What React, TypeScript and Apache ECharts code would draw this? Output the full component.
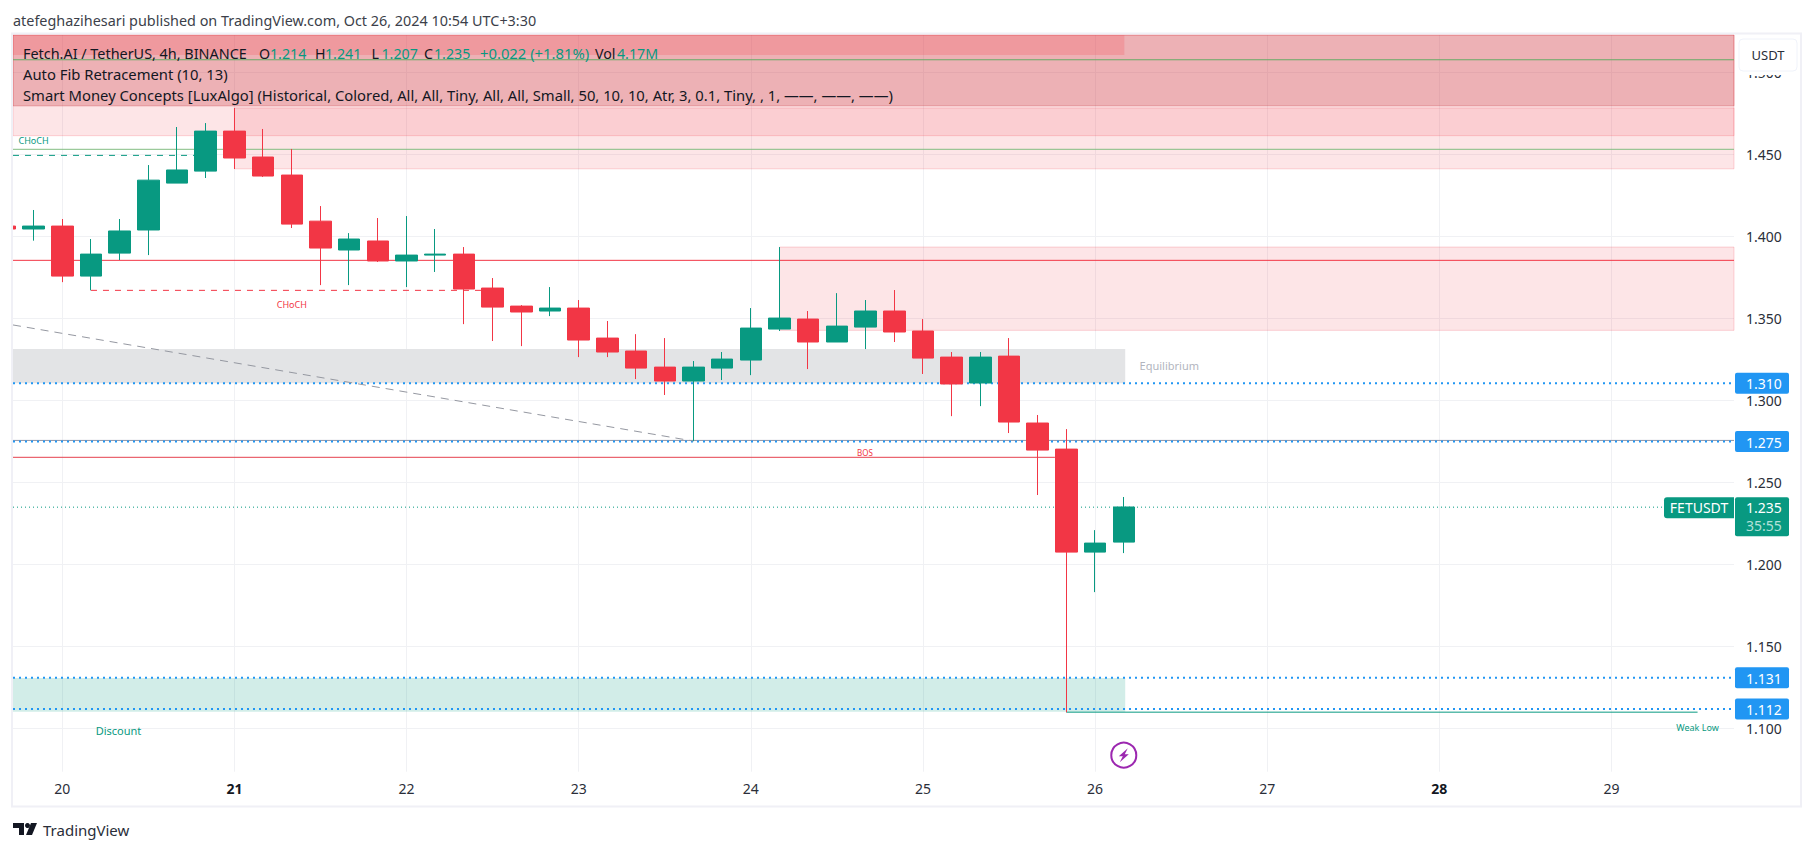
import React, { useEffect, useRef } from "react";
import * as echarts from "echarts";

const FONT = "'Noto Sans', sans-serif";

// candles: x index (4h bars, 0 = day 20 00:00), open, close, low, high
const candleX = [-2,-1,0,1,2,3,4,5,6,7,8,9,10,11,12,13,14,15,16,17,18,19,20,21,22,23,24,25,26,27,28,29,30,31,32,33,34,35,36,37];
const opens = [1.4064,1.4046,1.4064,1.3759,1.3899,1.404,1.4326,1.4399,1.4643,1.4485,1.4375,1.4094,1.3918,1.3973,1.3851,1.3887,1.3893,1.3686,1.3576,1.3546,1.3564,1.3381,1.3302,1.3204,1.3119,1.3198,1.3247,1.3436,1.3497,1.3357,1.3448,1.3546,1.3424,1.3265,1.3107,1.3271,1.2863,1.2704,1.2076,1.2137];
const closes = [1.4046,1.4064,1.3759,1.3893,1.4034,1.4344,1.4406,1.4643,1.4479,1.4369,1.4076,1.393,1.3985,1.3851,1.3887,1.3893,1.368,1.357,1.354,1.3564,1.3369,1.3296,1.3198,1.3119,1.3204,1.3253,1.3442,1.3503,1.3357,1.3454,1.3546,1.3418,1.3259,1.3101,1.3265,1.2869,1.2698,1.2076,1.2131,1.2351];
const lows = [1.4046,1.3975,1.3722,1.3672,1.3857,1.3887,1.4326,1.4357,1.4412,1.4363,1.4052,1.3704,1.3704,1.3845,1.3692,1.3784,1.3466,1.3363,1.3332,1.3515,1.3265,1.3265,1.3131,1.3034,1.2753,1.3125,1.3155,1.3424,1.3192,1.3357,1.3314,1.3357,1.3162,1.2905,1.2966,1.2802,1.2424,1.1099,1.1832,1.207];
const highs = [1.4064,1.4162,1.4107,1.3985,1.4107,1.4436,1.4668,1.4692,1.4784,1.4656,1.4534,1.4186,1.4021,1.4113,1.4125,1.4046,1.3936,1.3747,1.3582,1.3692,1.3613,1.3485,1.3405,1.3381,1.3241,1.3296,1.3564,1.3936,1.3546,1.3655,1.3613,1.3674,1.3497,1.3296,1.3296,1.3381,1.2912,1.2826,1.221,1.2412];

const xMin = -1.718;
const xMax = 58.27;
const yMin = 1.0737;
const yMax = 1.5229;

const dayTicks = [0, 6, 12, 18, 24, 30, 36, 42, 48, 54];
const dayLabels = ["20", "21", "22", "23", "24", "25", "26", "27", "28", "29"];
const boldDays = ["21", "28"];
const priceTicks = [1.1, 1.15, 1.2, 1.25, 1.3, 1.35, 1.4, 1.45, 1.5];

// zones: x start, x end, price top, price bottom
const premiumZone = [xMin, xMax, yMax, 1.4615];
const upperZone = [xMin, xMax, yMax, 1.4797];
const topZone = [xMin, 37.02, yMax, 1.5107];
const blockHigh = [6, xMax, 1.4784, 1.4413];
const blockMid = [25, xMax, 1.3936, 1.3428];
const equilibriumZone = [xMin, 37.05, 1.3314, 1.3105];
const discountZone = [xMin, 37.05, 1.1308, 1.1102];

// lines
const blueLevels = [1.3105, 1.275, 1.131, 1.112];
const blueLabels = ["1.310", "1.275", "1.131", "1.112"];
const lastPrice = 1.235;
const grayLevel = 1.2757;
const redLevel = 1.3855;
const greenLevels = [1.5078, 1.4532];
const bosLine = [[xMin, 1.2654], [34.6, 1.2654]];
const chochRedLine = [[1, 1.3672], [15, 1.3672]];
const chochGreenLine = [[xMin, 1.4495], [5, 1.4495]];
const fibTrendLine = [[xMin, 1.3461], [22, 1.2753]];
const weakLowLine = [[35, 1.11], [57, 1.11]];

// small chart labels: x index, price, text
const smcLabels = [
  [-1, 1.4588, "CHoCH"],
  [8, 1.3587, "CHoCH"],
  [27.98, 1.2686, "BOS"],
  [37.55, 1.3211, "Equilibrium"],
  [1.96, 1.0986, "Discount"],
  [57, 1.1005, "Weak Low"],
];
const smcLabelColors = ["#089981", "#f23645", "#f23645", "#b2b5be", "#089981", "#089981"];
const smcLabelSizes = [9, 9, 8, 11, 11, 9];
const smcLabelAligns = ["center", "center", "center", "left", "center", "center"];

const headerText = "atefeghazihesari published on TradingView.com, Oct 26, 2024 10:54 UTC+3:30";
const symbolName = "Fetch.AI / TetherUS, 4h, BINANCE";
const ohlcKeys = ["O", "H", "L", "C"];
const ohlcValues = ["1.214", "1.241", "1.207", "1.235"];
const changeText = "+0.022 (+1.81%)";
const volKey = "Vol";
const volText = "4.17M";
const study1 = "Auto Fib Retracement (10, 13)";
const study2 = "Smart Money Concepts [LuxAlgo] (Historical, Colored, All, All, Tiny, All, All, Small, 50, 10, 10, Atr, 3, 0.1, Tiny, , 1, \u2014\u2014, \u2014\u2014, \u2014\u2014)";

const UP = "#089981";
const DOWN = "#f23645";
const BLUE = "#2196f3";
const GRID_L = 13, GRID_T = 35, GRID_W = 1721, GRID_H = 736.7;
const LEGEND_FONT = `14.8px ${FONT}`;
const LEGEND_FONT_NARROW = `14.2px ${FONT}`;
const ohlcStart = [259, 315, 371.5, 424];
const changeStart = 480;
const volStart = 595;

function segLine(data: number[][], color: string, type: any, width = 1, z = 3) {
  return {
    type: "line", data, symbol: "none", silent: true, z,
    lineStyle: { color, width, type }, tooltip: { show: false },
  };
}

function legendText(x: number, y: number, text: string, fill: string, font = LEGEND_FONT) {
  return { type: "text", z: 53, style: { x, y, text, fill, font, textVerticalAlign: "middle" } };
}

export default function App() {
  const ref = useRef<HTMLDivElement>(null);
  useEffect(() => {
    document.body.style.margin = "0";
    document.body.style.background = "#ffffff";
    const chart = echarts.init(ref.current!, undefined, { renderer: "svg" });

    const zones = [premiumZone, blockHigh, blockMid, upperZone, topZone, equilibriumZone, discountZone];
    const zoneFill = [
      "rgba(242,54,69,0.13)", "rgba(242,54,69,0.13)", "rgba(242,54,69,0.13)",
      "rgba(200,50,60,0.29)", "rgba(250,60,70,0.2)", "#e3e4e6", "rgba(8,153,129,0.18)",
    ];
    const zoneStroke = [
      "rgba(242,54,69,0.2)", "rgba(242,54,69,0.2)", "rgba(242,54,69,0.2)",
      "rgba(200,50,60,0.35)", "none", "none", "none",
    ];

    const ohlcText: any[] = [];
    ohlcKeys.forEach((k, i) => {
      ohlcText.push(legendText(ohlcStart[i], 53, k, "#131722", LEGEND_FONT_NARROW));
      ohlcText.push(legendText(ohlcStart[i] + (k === "O" ? 11 : 10), 53, ohlcValues[i], UP, LEGEND_FONT_NARROW));
    });

    const option: any = {
      animation: false,
      backgroundColor: "#ffffff",
      textStyle: { fontFamily: FONT },
      grid: { left: GRID_L, top: GRID_T, width: GRID_W, height: GRID_H, containLabel: false },
      xAxis: {
        type: "value", min: xMin, max: xMax, scale: true,
        axisLine: { show: false },
        axisTick: { show: false, customValues: dayTicks },
        splitLine: { show: true, lineStyle: { color: "#f0f1f4", width: 1 } },
        axisLabel: {
          customValues: dayTicks, margin: 10, color: "#2a2e39", fontSize: 14, fontFamily: FONT,
          formatter: (v: number) => {
            const s = dayLabels[dayTicks.indexOf(Math.round(v))] ?? "";
            return boldDays.includes(s) ? `{b|${s}}` : s;
          },
          rich: { b: { fontWeight: 700, fontSize: 14, fontFamily: FONT, color: "#131722" } },
        },
      },
      yAxis: {
        type: "value", position: "right", min: yMin, max: yMax, scale: true,
        axisLine: { show: false },
        axisTick: { show: false, customValues: priceTicks },
        splitLine: { show: true, lineStyle: { color: "#f0f1f4", width: 1 } },
        axisLabel: {
          customValues: priceTicks, margin: 12, color: "#2a2e39", fontSize: 14, fontFamily: FONT, align: "left",
          formatter: (v: number) => v.toFixed(3),
        },
      },
      series: [
        {
          type: "custom", z: 2, silent: true, encode: { x: [0, 1], y: [2, 3] },
          data: zones,
          renderItem: (p: any, api: any) => {
            const a = api.coord([api.value(0), api.value(2)]);
            const b = api.coord([api.value(1), api.value(3)]);
            return {
              type: "rect",
              shape: { x: a[0], y: a[1], width: b[0] - a[0], height: b[1] - a[1] },
              style: { fill: zoneFill[p.dataIndex], stroke: zoneStroke[p.dataIndex], lineWidth: 1 },
            };
          },
        },
        segLine([[xMin, grayLevel], [xMax, grayLevel]], "#8f93a3", "solid"),
        ...blueLevels.map((v) => segLine([[xMin, v], [xMax, v]], BLUE, [2, 4], 2)),
        segLine([[xMin, lastPrice], [55.9, lastPrice]], UP, [1, 3]),
        segLine([[xMin, redLevel], [xMax, redLevel]], DOWN, "solid"),
        segLine([[xMin, greenLevels[0]], [xMax, greenLevels[0]]], "#66ab66", "solid"),
        segLine([[xMin, greenLevels[1]], [xMax, greenLevels[1]]], "#82bd82", "solid"),
        segLine(bosLine, "#e5404e", "solid"),
        segLine(chochRedLine, DOWN, [6, 6]),
        segLine(chochGreenLine, UP, [6, 6]),
        segLine(fibTrendLine, "#9598a1", [8, 6]),
        segLine(weakLowLine, UP, "solid"),
        {
          type: "candlestick", z: 5, silent: true, barWidth: 22,
          encode: { x: 0, y: [1, 2, 3, 4] },
          itemStyle: { color: UP, color0: DOWN, borderColor: UP, borderColor0: DOWN, borderWidth: 1 },
          data: candleX.map((x, i) => [x, opens[i], closes[i], lows[i], highs[i]]),
        },
        {
          type: "custom", z: 6, silent: true, encode: { x: 0, y: 1 },
          data: smcLabels,
          renderItem: (p: any, api: any) => {
            const c = api.coord([api.value(0), api.value(1)]);
            const i = p.dataIndex;
            return {
              type: "text",
              style: {
                x: c[0], y: c[1], text: smcLabels[i][2], fill: smcLabelColors[i],
                font: `${smcLabelSizes[i]}px ${FONT}`, textAlign: smcLabelAligns[i], textVerticalAlign: "middle",
              },
            };
          },
        },
        {
          type: "custom", z: 8, silent: true, encode: { x: 0, y: 1 },
          data: blueLevels.map((v) => [xMax, v]),
          renderItem: (p: any, api: any) => {
            const c = api.coord([api.value(0), api.value(1)]);
            return {
              type: "group",
              children: [
                { type: "rect", shape: { x: c[0] + 1, y: c[1] - 10.5, width: 54, height: 21, r: 2 }, style: { fill: BLUE } },
                {
                  type: "text",
                  style: {
                    x: c[0] + 12, y: c[1] + 0.5, text: blueLabels[p.dataIndex], fill: "#ffffff",
                    font: `14px ${FONT}`, textAlign: "left", textVerticalAlign: "middle",
                  },
                },
              ],
            };
          },
        },
        {
          type: "custom", z: 8, silent: true, encode: { x: 0, y: 1 },
          data: [[xMax, lastPrice]],
          renderItem: (_p: any, api: any) => {
            const c = api.coord([api.value(0), api.value(1)]);
            return {
              type: "group",
              children: [
                { type: "rect", shape: { x: c[0] - 70, y: c[1] - 10, width: 70, height: 21, r: [3, 0, 0, 3] }, style: { fill: UP } },
                { type: "text", style: { x: c[0] - 35, y: c[1] + 0.5, text: "FETUSDT", fill: "#ffffff", font: `14px ${FONT}`, textAlign: "center", textVerticalAlign: "middle" } },
                { type: "rect", shape: { x: c[0] + 1, y: c[1] - 10, width: 54, height: 39, r: 2 }, style: { fill: UP } },
                { type: "text", style: { x: c[0] + 12, y: c[1] + 0.5, text: ohlcValues[3], fill: "#ffffff", font: `14px ${FONT}`, textAlign: "left", textVerticalAlign: "middle" } },
                { type: "text", style: { x: c[0] + 12, y: c[1] + 18, text: "35:55", fill: "#b2e0d8", font: `14px ${FONT}`, textAlign: "left", textVerticalAlign: "middle" } },
              ],
            };
          },
        },
        {
          type: "custom", z: 8, silent: true, encode: { x: 0, y: 1 },
          data: [[37, 1.0838]],
          renderItem: (_p: any, api: any) => {
            const c = api.coord([api.value(0), api.value(1)]);
            const [x, y] = c;
            return {
              type: "group",
              children: [
                { type: "circle", shape: { cx: x, cy: y, r: 12.5 }, style: { fill: "#ffffff", stroke: "#9c27b0", lineWidth: 2 } },
                {
                  type: "polygon",
                  shape: { points: [[x + 4, y - 7], [x - 5, y + 1], [x - 1, y + 1], [x - 4, y + 7], [x + 5, y - 1], [x + 1, y - 1]] },
                  style: { fill: "#9c27b0" },
                },
              ],
            };
          },
        },
      ],
      graphic: [
        { type: "rect", z: 49, shape: { x: 0, y: 30, width: 11.5, height: 780 }, style: { fill: "#ffffff" } },
        { type: "rect", z: 50, shape: { x: 12, y: 33.5, width: 1789, height: 773 }, style: { fill: "none", stroke: "#f0f0f6", lineWidth: 2 } },
        { type: "rect", z: 51, shape: { x: 1735, y: 35, width: 64, height: 40 }, style: { fill: "#ffffff" } },
        { type: "rect", z: 52, shape: { x: 1739, y: 39, width: 58, height: 32, r: 4 }, style: { fill: "#ffffff", stroke: "#f0f3fa", lineWidth: 1 } },
        { type: "text", z: 53, style: { x: 1768, y: 55, text: "USDT", fill: "#2a2e39", font: `13px ${FONT}`, textAlign: "center", textVerticalAlign: "middle" } },
        { type: "text", z: 53, style: { x: 13, y: 20, text: headerText, fill: "#3c3f4a", font: `14.4px ${FONT}`, textVerticalAlign: "middle" } },
        legendText(23, 53, symbolName, "#131722", `14.4px ${FONT}`),
        ...ohlcText,
        legendText(changeStart, 53, changeText, UP),
        legendText(volStart, 53, volKey, "#131722", LEGEND_FONT_NARROW),
        legendText(volStart + 22, 53, volText, UP, LEGEND_FONT_NARROW),
        legendText(23, 74, study1, "#131722"),
        legendText(23, 95, study2, "#131722"),
        // TradingView mark
        { type: "polygon", z: 53, shape: { points: [[13, 823], [24, 823], [24, 835], [19, 835], [19, 828], [13, 828]] }, style: { fill: "#131722" } },
        { type: "circle", z: 53, shape: { cx: 27.5, cy: 825.5, r: 2.5 }, style: { fill: "#131722" } },
        { type: "polygon", z: 53, shape: { points: [[31, 823], [37, 823], [32, 835], [26, 835]] }, style: { fill: "#131722" } },
        { type: "text", z: 53, style: { x: 43, y: 830, text: "TradingView", fill: "#2a2e39", font: `15px ${FONT}`, textVerticalAlign: "middle" } },
      ],
    };
    chart.setOption(option);
    return () => chart.dispose();
  }, []);
  return <div ref={ref} style={{ position: "fixed", left: 0, top: 0, width: 1814, height: 851 }} />;
}
